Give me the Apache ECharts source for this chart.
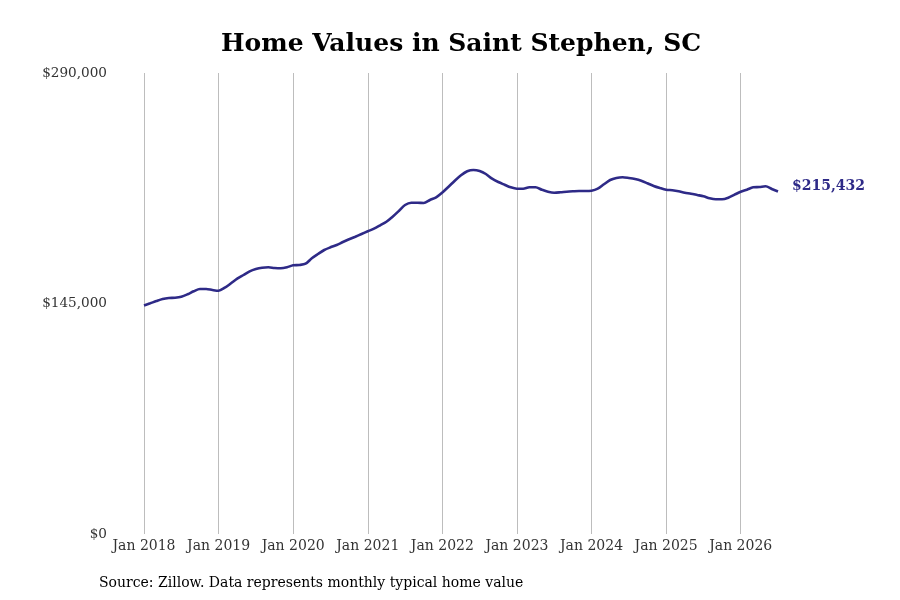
<!DOCTYPE html>
<html>
<head>
<meta charset="utf-8">
<script src="https://cdn.jsdelivr.net/npm/echarts@6/dist/echarts.min.js"></script>
<style>html,body{margin:0;padding:0;background:#fff}#c{width:900px;height:600px}</style>
</head>
<body>
<div id="c"></div>
<script>
const years = [2018, 2019, 2020, 2021, 2022, 2023, 2024, 2025, 2026];
const monthNames = ['Jan','Feb','Mar','Apr','May','Jun','Jul','Aug','Sep','Oct','Nov','Dec'];
const values2018 = [143742, 145126, 146573, 147831, 148461, 148650, 149279, 150789, 152676, 154122, 154122, 153493];
const values2019 = [153052, 154940, 157708, 160602, 162929, 165257, 166704, 167522, 167773, 167333, 167144, 167773];
const values2020 = [169031, 169220, 170038, 173435, 176140, 178656, 180354, 181801, 183688, 185387, 187022, 188721];
const values2021 = [190419, 192055, 194194, 196459, 199604, 203190, 206964, 208411, 208411, 208222, 210109, 211808];
const values2022 = [214827, 218476, 222250, 225647, 228163, 228981, 228352, 226465, 223508, 221433, 219734, 218098];
const values2023 = [217218, 217218, 218098, 218098, 216589, 215331, 214702, 214953, 215331, 215583, 215771, 215771];
const values2024 = [215960, 217218, 219986, 222691, 223949, 224389, 223949, 223320, 222250, 220615, 218916, 217656];
const values2025 = [216589, 216211, 215583, 214702, 214073, 213255, 212437, 211179, 210550, 210550, 211556, 213443];
const values2026 = [215331, 216589, 218098, 218287, 218727, 217029, 215432];
const yTicks = [0, 145000, 290000];

const allYears = [values2018, values2019, values2020, values2021, values2022, values2023, values2024, values2025, values2026];
const categories = [];
const values = [];
allYears.forEach((arr, yi) => {
  arr.forEach((v, mi) => {
    categories.push(monthNames[mi] + ' ' + years[yi]);
    values.push(v);
  });
});
const isJan = (idx) => idx % 12 === 0;
const fmtMoney = v => '$' + v.toLocaleString('en-US');
const lineColor = '#2e2a87';
const font = 'DejaVu Serif';

const chart = echarts.init(document.getElementById('c'));
chart.setOption({
  animation: false,
  backgroundColor: '#ffffff',
  title: {
    text: 'Home Values in Saint Stephen, SC',
    left: 456, top: 27, textAlign: 'center',
    textStyle: { fontFamily: font, fontWeight: 'bold', fontSize: 25, color: '#000' }
  },
  graphic: [{
    type: 'text', left: 99, top: 576,
    style: { text: 'Source: Zillow. Data represents monthly typical home value', font: '14px "DejaVu Serif"', fill: '#000' }
  }],
  grid: { left: 144, right: 122, top: 73, bottom: 66, containLabel: false },
  xAxis: {
    type: 'category',
    data: categories,
    boundaryGap: false,
    axisLine: { show: false },
    axisTick: { show: false },
    axisLabel: {
      interval: (i) => isJan(i),
      fontFamily: font, fontSize: 14, color: '#333', margin: 5
    },
    splitLine: { show: true, interval: (i) => isJan(i), lineStyle: { color: '#bdbdbd', width: 1 } }
  },
  yAxis: {
    type: 'value',
    min: yTicks[0], max: yTicks[2], interval: yTicks[1],
    axisLine: { show: false },
    axisTick: { show: false },
    splitLine: { show: false },
    axisLabel: {
      formatter: fmtMoney, fontFamily: font, fontSize: 13.6, color: '#333', margin: 37,
      verticalAlign: 'middle', padding: [4, 0, 0, 0]
    }
  },
  series: [{
    type: 'line',
    data: values,
    smooth: 0.3,
    symbol: 'none',
    lineStyle: { color: lineColor, width: 2.6 },
    endLabel: {
      show: true,
      formatter: (p) => fmtMoney(p.value),
      color: lineColor, fontFamily: font, fontWeight: 'bold', fontSize: 14,
      distance: 14, offset: [0, -5]
    }
  }]
});
</script>
</body>
</html>
